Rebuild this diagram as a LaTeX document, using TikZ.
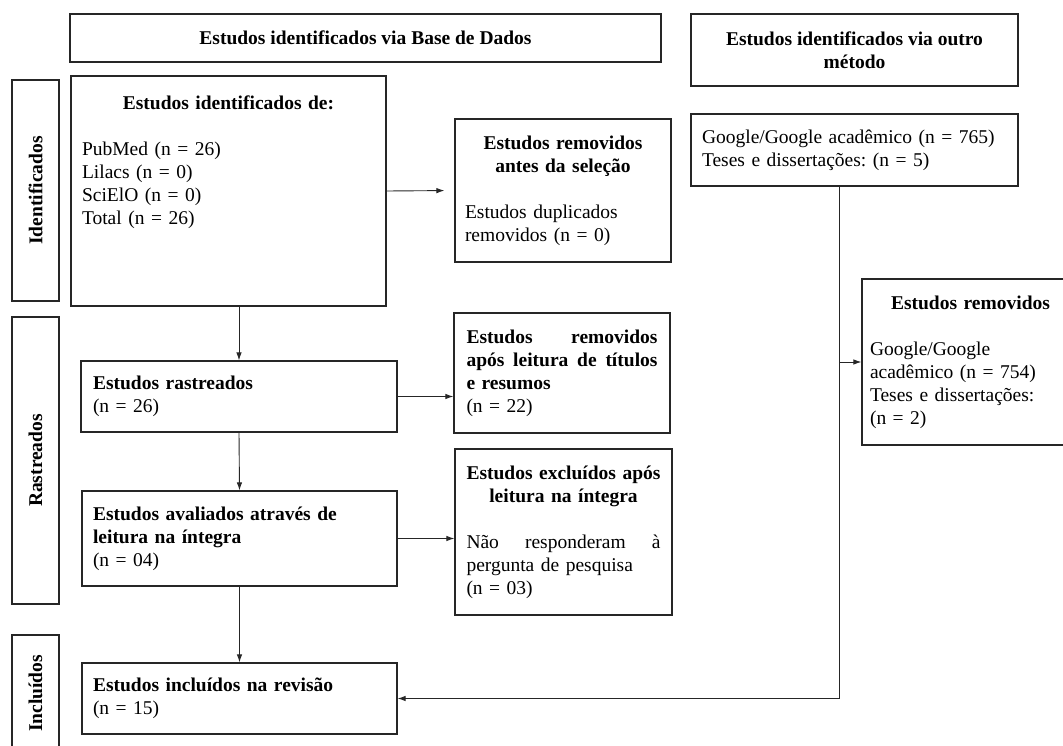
\documentclass[tikz,border=0pt]{standalone}
\usepackage{fontspec}
\setmainfont{Liberation Serif}
\usetikzlibrary{positioning,arrows.meta,calc}
\setlength{\parindent}{0pt}
\frenchspacing
\newcommand{\flowfont}{\fontsize{19.5}{23}\selectfont}

\begin{document}
\begin{tikzpicture}[
  x=1pt, y=-1pt,
  flowBox/.style={draw=black!85, line width=1.2pt, inner ysep=0pt,
                  font=\flowfont},
  sideBox/.style={draw=black!85, line width=1.2pt, inner sep=0pt,
                  minimum width=47pt, font=\flowfont\bfseries},
  flowArrow/.style={draw=black!85, line width=0.9pt,
                    -{Latex[length=8pt,width=5.5pt]}}
]
  \useasboundingbox (0,0) rectangle (1063,746);

  % headers
  \node[flowBox, font=\flowfont\bfseries, minimum width=591pt,
        minimum height=48pt] (hdrBase) at (365.5,38)
    {Estudos identificados via Base de Dados};
  \node[flowBox, font=\flowfont\bfseries, align=center, minimum width=327pt,
        minimum height=72pt] (hdrOther) at (854.5,50)
    {Estudos identificados via outro\\método};

  % phases
  \node[sideBox, minimum height=221pt] (sideIdent) at (35.5,190.5)
    {\rotatebox{90}{Identificados}};
  \node[sideBox, minimum height=287pt] (sideRast) at (35.5,460.5)
    {\rotatebox{90}{Rastreados}};
  \node[sideBox, minimum height=117pt] (sideIncl) at (35.5,693.5)
    {\rotatebox{90}{Incluídos}};

  % base de dados
  \node[flowBox, inner xsep=11pt, text width=293pt, minimum height=230pt]
    (identBox) at (228.5,191)
    {{\centering\bfseries Estudos identificados de:\par}\vspace{23pt}
     PubMed (n = 26)\\ Lilacs (n = 0)\\ SciElO (n = 0)\\ Total (n = 26)\\[38pt]\mbox{}};
  \node[flowBox, inner xsep=10pt, text width=196pt, minimum height=143pt]
    (rmDup) at (563,190.5)
    {{\centering\bfseries Estudos removidos\\ antes da seleção\par}\vspace{23pt}
     Estudos duplicados\\ removidos (n = 0)};
  \node[flowBox, inner xsep=12pt, text width=292pt, minimum height=71pt]
    (rastBox) at (239,396.5)
    {{\bfseries Estudos rastreados}\\ (n = 26)};
  \node[flowBox, inner xsep=12.5pt, text width=191pt, minimum height=120pt]
    (rmTitle) at (562,373)
    {{\bfseries Estudos \hfill removidos}\\
     {\bfseries após \hfill leitura \hfill de \hfill títulos}\\
     {\bfseries e resumos}\\ (n = 22)};
  \node[flowBox, inner xsep=11pt, text width=293pt, minimum height=95pt]
    (avalBox) at (239.5,538.5)
    {{\bfseries Estudos avaliados através de\\ leitura na íntegra}\\ (n = 04)};
  \node[flowBox, inner xsep=11.5pt, text width=194pt, minimum height=166pt]
    (exclBox) at (563.5,532)
    {{\centering\bfseries Estudos excluídos após\\ leitura na íntegra\par}\vspace{23pt}
     Não \hfill responderam \hfill à\\ pergunta de pesquisa\\ (n = 03)};
  \node[flowBox, inner xsep=11pt, text width=293pt, minimum height=71pt]
    (inclBox) at (239.5,698.5)
    {{\bfseries Estudos incluídos na revisão}\\ (n = 15)};

  % outro metodo
  \node[flowBox, inner xsep=11pt, text width=305pt, minimum height=72pt]
    (googleBox) at (854.5,150)
    {Google/Google acadêmico (n = 765)\\ Teses e dissertações: (n = 5)};
  \node[flowBox, inner xsep=8pt, text width=201pt, minimum height=166pt]
    (rmOther) at (970.5,362)
    {{\centering\bfseries Estudos removidos\par}\vspace{23pt}
     Google/Google\\ acadêmico (n = 754)\\ Teses e dissertações:\\ (n = 2)};

  \draw[flowArrow, shorten >=10pt] (identBox.east) -- (rmDup.west);
  \draw[flowArrow] (rastBox.north |- identBox.south) -- (rastBox.north);
  \draw[flowArrow] (rastBox.east) -- (rastBox.east -| rmTitle.west);
  \draw[flowArrow] (rastBox.south) -- (avalBox.north);
  \draw[flowArrow] (avalBox.east) -- (avalBox.east -| exclBox.west);
  \draw[flowArrow] (avalBox.south) -- (inclBox.north);

  \coordinate (gLine) at ([xshift=-15.5pt]googleBox.south);
  \draw[flowArrow] (gLine) |- (inclBox.east);
  \draw[flowArrow] (gLine |- rmOther.west) -- (rmOther.west);
\end{tikzpicture}
\end{document}
